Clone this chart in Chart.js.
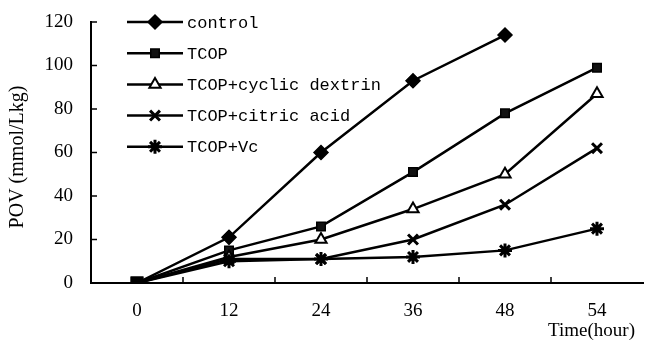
<!DOCTYPE html>
<html>
<head>
<meta charset="utf-8">
<script src="https://cdn.jsdelivr.net/npm/chart.js@4/dist/chart.umd.min.js"></script>
<style>
html,body{margin:0;padding:0;background:#fff;}
canvas{display:block;}
</style>
</head>
<body>
<canvas id="c" width="645" height="343"></canvas>
<script>
const categories = ['0', '12', '24', '36', '48', '54'];
const control = [0, 21, 60, 93, 114, null];
const tcop = [0, 15, 26, 51, 78, 99];
const tcopCyclic = [0, 12, 20, 34, 50, 87];
const tcopCitric = [0, 11, 11, 20, 36, 62];
const tcopVc = [0, 10, 11, 12, 15, 25];
const seriesNames = ['control', 'TCOP', 'TCOP+cyclic dextrin', 'TCOP+citric acid', 'TCOP+Vc'];
const yTicks = [0, 20, 40, 60, 80, 100, 120];
const yTitle = 'POV (mmol/Lkg)';
const xTitle = 'Time(hour)';

const markers = [
  {style: 'rectRot', r: 7, fill: '#000', bw: 1.5},
  {style: 'rect', r: 6, fill: '#111', bw: 1.5},
  {style: 'triangle', r: 6.5, fill: '#fff', bw: 2},
  {style: 'crossRot', r: 7, fill: '#000', bw: 3},
  {style: 'star', r: 7, fill: '#000', bw: 3}
];
const allData = [control, tcop, tcopCyclic, tcopCitric, tcopVc];

const datasets = allData.map((d, i) => ({
  label: seriesNames[i],
  data: d,
  borderColor: '#000',
  borderWidth: 2.5,
  tension: 0,
  spanGaps: false,
  pointStyle: ctx => ctx.dataIndex === 0 ? 'rect' : markers[i].style,
  pointRadius: ctx => ctx.dataIndex === 0 ? 7 : markers[i].r,
  pointBackgroundColor: ctx => ctx.dataIndex === 0 ? '#000' : markers[i].fill,
  pointBorderColor: '#000',
  pointBorderWidth: markers[i].bw,
  order: 5 - i
}));

function drawMarker(ctx, m, x, y) {
  const opts = {pointStyle: m.style, radius: m.r, rotation: 0, borderWidth: m.bw};
  ctx.save();
  ctx.fillStyle = m.fill;
  ctx.strokeStyle = '#000';
  ctx.lineWidth = m.bw;
  if (Chart.helpers && Chart.helpers.drawPoint) {
    Chart.helpers.drawPoint(ctx, opts, x, y);
  } else {
    ctx.beginPath(); ctx.arc(x, y, m.r, 0, Math.PI * 2); ctx.fill(); ctx.stroke();
  }
  ctx.restore();
}

const zeroPad = () => ({left: 0, right: 0, top: 0, bottom: 0});

const decor = {
  id: 'decor',
  afterDraw(chart) {
    const ctx = chart.ctx;
    const xs = chart.scales.x, ys = chart.scales.y;
    const area = chart.chartArea;
    ctx.save();
    ctx.strokeStyle = '#000';
    ctx.lineWidth = 1.5;
    yTicks.forEach(v => {
      const py = ys.getPixelForValue(v);
      ctx.beginPath(); ctx.moveTo(area.left, py); ctx.lineTo(area.left + 6, py); ctx.stroke();
    });
    for (let i = 0; i < categories.length - 1; i++) {
      const px = (xs.getPixelForTick(i) + xs.getPixelForTick(i + 1)) / 2;
      ctx.beginPath(); ctx.moveTo(px, area.bottom); ctx.lineTo(px, area.bottom - 6); ctx.stroke();
    }
    ctx.fillStyle = '#000';
    ctx.font = '19px "Liberation Serif", serif';
    ctx.textAlign = 'right';
    ctx.textBaseline = 'middle';
    ctx.fillText(xTitle, 635, 331);
    ctx.save();
    ctx.translate(18, 157);
    ctx.rotate(-Math.PI / 2);
    ctx.textAlign = 'center';
    ctx.font = '20px "Liberation Serif", serif';
    ctx.fillText(yTitle, 0, 0);
    ctx.restore();
    const lx0 = 127, lx1 = 183, ly0 = 22, step = 31.2;
    ctx.font = '17px "Liberation Mono", monospace';
    ctx.textAlign = 'left';
    seriesNames.forEach((name, i) => {
      const y = ly0 + i * step;
      ctx.lineWidth = 2.5;
      ctx.beginPath(); ctx.moveTo(lx0, y); ctx.lineTo(lx1, y); ctx.stroke();
      drawMarker(ctx, markers[i], (lx0 + lx1) / 2, y);
      ctx.fillStyle = '#000';
      ctx.fillText(name, lx1 + 4, y + 1);
    });
    ctx.restore();
  }
};

new Chart(document.getElementById('c'), {
  type: 'line',
  data: {labels: categories, datasets: datasets},
  options: {
    responsive: false,
    animation: false,
    devicePixelRatio: 1,
    layout: {autoPadding: false, padding: {left: 0, top: 22, right: 2, bottom: 0}},
    plugins: {legend: {display: false}, tooltip: {enabled: false}},
    scales: {
      x: {
        type: 'category',
        offset: true,
        grid: {display: false, drawTicks: false},
        border: {display: true, color: '#000', width: 2},
        ticks: {color: '#000', padding: 17, font: {family: '"Liberation Serif", serif', size: 19}, maxRotation: 0, autoSkip: false},
        afterFit(s) { s.height = 60; s.paddingLeft = 0; s.paddingRight = 0; s.getPadding = zeroPad; }
      },
      y: {
        min: 0, max: 120,
        grid: {display: false, drawTicks: false},
        border: {display: true, color: '#000', width: 2},
        ticks: {stepSize: 20, color: '#000', padding: 18, font: {family: '"Liberation Serif", serif', size: 19}},
        afterFit(s) { s.width = 91; s.paddingTop = 0; s.paddingBottom = 0; s.getPadding = zeroPad; }
      }
    }
  },
  plugins: [decor]
});
</script>
</body>
</html>
